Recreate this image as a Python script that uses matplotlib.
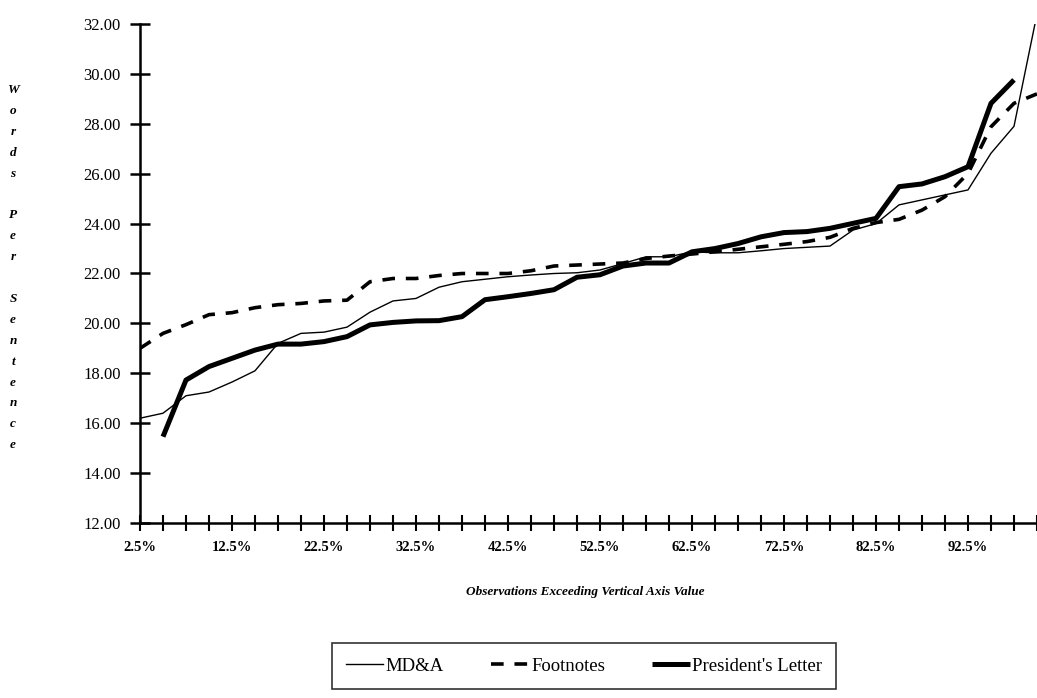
import matplotlib
matplotlib.use("Agg")
import matplotlib.pyplot as plt
import numpy as np

# observation percentiles 2.5% .. 100% (one category every 2.5%)
pct = [2.5 * (i + 1) for i in range(40)]
# only every fourth category is labelled, 2.5% .. 92.5%
tick_labels = ["%.1f%%" % p if i % 4 == 0 and i <= 36 else "" for i, p in enumerate(pct)]

mdna = [16.2, 16.4, 17.1, 17.25, 17.65, 18.1, 19.2, 19.6, 19.65, 19.85,
        20.45, 20.9, 21.0, 21.45, 21.67, 21.77, 21.87, 21.94, 22.0, 22.03,
        22.14, 22.4, 22.67, 22.67, 22.87, 22.83, 22.83, 22.91, 23.0, 23.05,
        23.1, 23.74, 24.0, 24.75, 24.95, 25.15, 25.35, 26.82, 27.9, 32.4]

footnotes = [19.0, 19.6, 19.95, 20.35, 20.43, 20.63, 20.75, 20.8, 20.9, 20.93,
             21.67, 21.8, 21.8, 21.92, 22.0, 22.0, 22.0, 22.11, 22.3, 22.34,
             22.38, 22.42, 22.6, 22.7, 22.78, 22.87, 22.97, 23.07, 23.17, 23.28,
             23.45, 23.81, 24.04, 24.17, 24.54, 25.08, 26.01, 27.88, 28.82, 29.2]

president = [np.nan, 15.46, 17.73, 18.27, 18.6, 18.93, 19.17, 19.17, 19.27, 19.47,
             19.94, 20.04, 20.1, 20.11, 20.27, 20.95, 21.07, 21.2, 21.35, 21.85,
             21.95, 22.3, 22.42, 22.42, 22.87, 23.0, 23.2, 23.47, 23.64, 23.68,
             23.81, 24.01, 24.21, 25.48, 25.59, 25.88, 26.28, 28.82, 29.76, np.nan]

y_ticks = [12, 14, 16, 18, 20, 22, 24, 26, 28, 30, 32]
ylabel_words = ["Words", "Per", "Sentence"]
xlabel_text = "Observations Exceeding Vertical Axis Value"

plt.rcParams['font.family'] = ['Liberation Serif', 'DejaVu Serif']

W, H = 1037, 698
fig = plt.figure(figsize=(W / 100, H / 100), dpi=100)
ax = fig.add_axes([140 / W, 1 - 523 / H, 1 - 140 / W, (523 - 24) / H])

x = np.arange(len(pct))
ax.plot(x, mdna, color='black', lw=1.0, label='MD&A')
ax.plot(x, footnotes, color='black', lw=2.6, linestyle=(0, (3.5, 3.0)), label='Footnotes')
ax.plot(x, president, color='black', lw=3.6, label="President's Letter",
        solid_capstyle='butt')

ax.set_xlim(0, 38.6)
ax.set_ylim(12, 32)
ax.set_xticks(x)
ax.set_xticklabels(tick_labels, fontsize=10.5, fontweight='bold')
ax.set_yticks(y_ticks)
ax.set_yticklabels(["%.2f" % v for v in y_ticks], fontsize=12)

for s in ['top', 'right']:
    ax.spines[s].set_visible(False)
for s in ['left', 'bottom']:
    ax.spines[s].set_linewidth(1.8)
ax.tick_params(axis='y', direction='inout', length=14, width=1.8, pad=7)
ax.tick_params(axis='x', direction='inout', length=12, width=1.5, pad=7)

# stacked vertical y label, one letter per line, blank line between words
letters = []
for w in ylabel_words:
    letters += list(w) + [""]
y0, step = 90, 20.9
for k, ch in enumerate(letters):
    if ch:
        fig.text(13 / W, 1 - (y0 + k * step) / H, ch, ha='center', va='center',
                 fontsize=9.5, fontweight='bold', fontstyle='italic')

fig.text(585 / W, 1 - 592 / H, xlabel_text, ha='center', va='center',
         fontsize=9.5, fontweight='bold', fontstyle='italic')

leg = fig.legend(loc='center', bbox_to_anchor=(584 / W, 1 - 666 / H), ncol=3,
                 frameon=True, fancybox=False, fontsize=13.5, handlelength=2.0,
                 columnspacing=2.5, handletextpad=0.15, borderpad=0.75)
leg.get_frame().set_edgecolor('black')
leg.get_frame().set_linewidth(1.2)

fig.savefig("out.png", dpi=100)
